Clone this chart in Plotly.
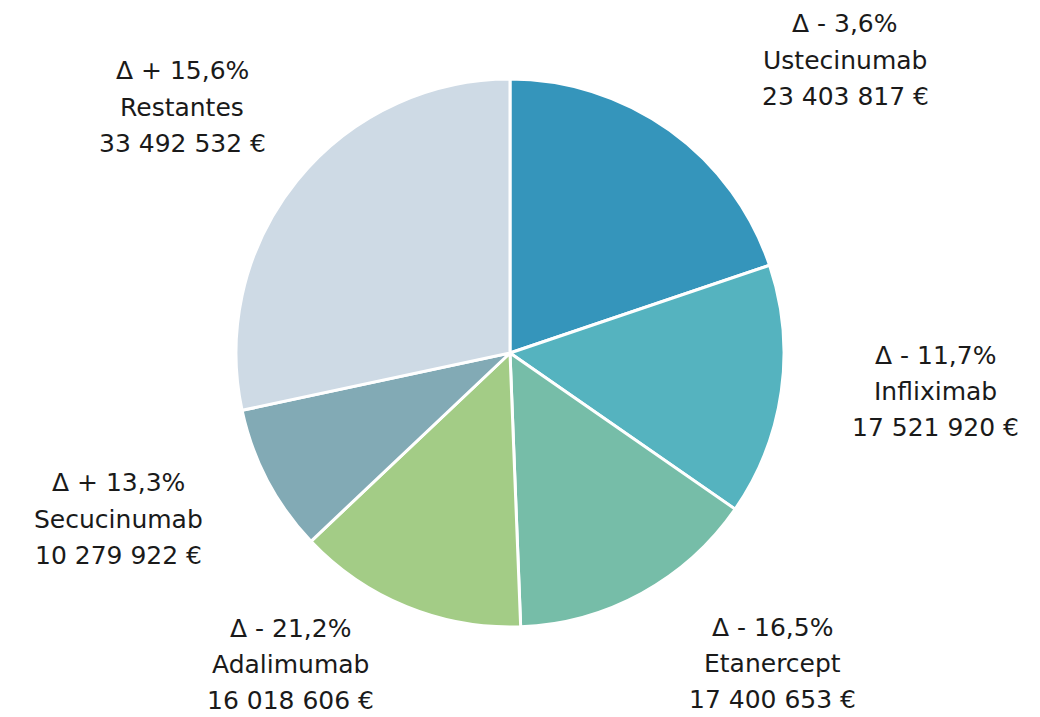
import plotly.graph_objects as go

labels = ["Ustecinumab", "Infliximab", "Etanercept", "Adalimumab", "Secucinumab", "Restantes"]
values = [23403817, 17521920, 17400653, 16018606, 10279922, 33492532]
deltas = [-3.6, -11.7, -16.5, -21.2, 13.3, 15.6]
colors = ["#3595BB", "#55B3BF", "#76BDA8", "#A3CC86", "#82AAB5", "#CEDAE5"]

W, H = 1032, 709   # page body has an 8px margin
OFF = 8
# label block centres (screen pixel layout of the text blocks)
label_pos = {
    "Ustecinumab": (845, 60),
    "Infliximab": (935, 391),
    "Etanercept": (772, 663),
    "Adalimumab": (290, 664),
    "Secucinumab": (118, 519),
    "Restantes": (182, 107),
}

def px(x):
    return (x - OFF) / W

def py(y):
    return 1 - (y - OFF) / H

def fmt_delta(d):
    s = "+" if d > 0 else "-"
    return f"Δ {s} {abs(d):.1f}%".replace(".", ",")

def fmt_val(v):
    return f"{v:,}".replace(",", " ") + " €"

cx0, cy0, R = 510, 353, 274
fig = go.Figure(go.Pie(
    labels=labels, values=values, sort=False, direction="clockwise", rotation=0,
    marker=dict(colors=colors, line=dict(color="white", width=3)),
    textinfo="none", hoverinfo="label+value+percent",
    domain=dict(x=[px(cx0 - R), px(cx0 + R)], y=[py(cy0 + R), py(cy0 - R)]),
))

ann = []
line_gap = 36
for lab, val, d in zip(labels, values, deltas):
    cx, cy = label_pos[lab]
    for i, t in enumerate([fmt_delta(d), lab, fmt_val(val)]):
        y = cy + (i - 1) * line_gap
        ann.append(dict(x=px(cx), y=py(y), xref="paper", yref="paper",
                        text=t, showarrow=False, xanchor="center", yanchor="middle",
                        borderpad=0,
                        font=dict(family="DejaVu Sans", size=25, color="#1a1a1a")))

fig.update_layout(width=W, height=H, margin=dict(l=0, r=0, t=0, b=0),
                  paper_bgcolor="white", plot_bgcolor="white",
                  showlegend=False, annotations=ann)
fig.write_html("out.html")
